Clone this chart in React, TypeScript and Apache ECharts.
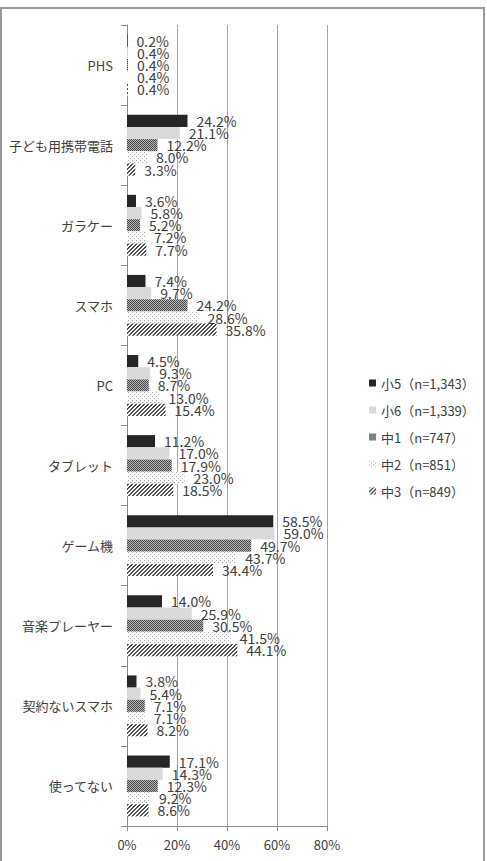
import React, { useEffect, useRef } from "react";
import * as echarts from "echarts";

// Devices used by grade (percent of respondents)
const categories = [
  "PHS",
  "子ども用携帯電話",
  "ガラケー",
  "スマホ",
  "PC",
  "タブレット",
  "ゲーム機",
  "音楽プレーヤー",
  "契約ないスマホ",
  "使ってない",
];

const seriesNames = [
  "小5（n=1,343）",
  "小6（n=1,339）",
  "中1（n=747）",
  "中2（n=851）",
  "中3（n=849）",
];

const grade5 = [0.2, 24.2, 3.6, 7.4, 4.5, 11.2, 58.5, 14.0, 3.8, 17.1];
const grade6 = [0.4, 21.1, 5.8, 9.7, 9.3, 17.0, 59.0, 25.9, 5.4, 14.3];
const jh1 = [0.4, 12.2, 5.2, 24.2, 8.7, 17.9, 49.7, 30.5, 7.1, 12.3];
const jh2 = [0.4, 8.0, 7.2, 28.6, 13.0, 23.0, 43.7, 41.5, 7.1, 9.2];
const jh3 = [0.4, 3.3, 7.7, 35.8, 15.4, 18.5, 34.4, 44.1, 8.2, 8.6];

const xTicks = { min: 0, max: 80, interval: 20 };

type PixelFn = (x: number, y: number) => string;

function makePattern(size: number, pixel: PixelFn) {
  const c = document.createElement("canvas");
  c.width = size;
  c.height = size;
  const ctx = c.getContext("2d")!;
  for (let y = 0; y < size; y++) {
    for (let x = 0; x < size; x++) {
      ctx.fillStyle = pixel(x, y);
      ctx.fillRect(x, y, 1, 1);
    }
  }
  return {
    image: c,
    repeat: "repeat",
    imageWidth: size,
    imageHeight: size,
  } as any;
}

export default function App() {
  const ref = useRef<HTMLDivElement>(null);

  useEffect(() => {
    if (!ref.current) return;
    const chart = echarts.init(ref.current, undefined, { renderer: "svg" });

    const checker = makePattern(2, (x, y) => ((x + y) % 2 === 0 ? "#4a4a4a" : "#b4b4b4"));
    const dots = makePattern(4, (x, y) =>
      (x === 0 && y === 0) || (x === 2 && y === 2) ? "#a8a8a8" : "#ffffff"
    );
    const hatch = makePattern(4, (x, y) => {
      const k = (x + y) % 4;
      return k === 3 || k === 0 ? "#4d4d4d" : "#ffffff";
    });

    const fills: any[] = ["#262626", "#d9d9d9", checker, dots, hatch];
    const values = [grade5, grade6, jh1, jh2, jh3];
    const font = "'Noto Sans CJK JP', 'Noto Sans', sans-serif";

    chart.setOption({
      animation: false,
      backgroundColor: "#ffffff",
      textStyle: { fontFamily: font },
      graphic: [
        {
          type: "rect",
          shape: { x: 1, y: 8, width: 483, height: 880 },
          style: { fill: "none", stroke: "#9a9a9a", lineWidth: 2 },
          silent: true,
        },
      ],
      legend: {
        orient: "vertical",
        left: 364,
        top: 370,
        icon: "rect",
        itemWidth: 7,
        itemHeight: 7,
        itemGap: 11,
        textStyle: { color: "#404040", fontSize: 13, lineHeight: 16, fontFamily: font },
        data: seriesNames,
      },
      grid: { left: 127, top: 25, width: 200, height: 801, containLabel: false },
      xAxis: {
        type: "value",
        min: xTicks.min,
        max: xTicks.max,
        interval: xTicks.interval,
        axisLine: { show: true, lineStyle: { color: "#8c8c8c", width: 1 } },
        axisTick: { show: true, length: 5, lineStyle: { color: "#8c8c8c" } },
        splitLine: { show: true, lineStyle: { color: "#a6a6a6", width: 1 } },
        axisLabel: {
          formatter: "{value}%",
          color: "#404040",
          fontSize: 13,
          margin: 12,
          fontFamily: font,
        },
      },
      yAxis: {
        type: "category",
        inverse: true,
        data: categories,
        axisLine: { show: true, lineStyle: { color: "#8c8c8c", width: 1 } },
        axisTick: { show: true, length: 6, lineStyle: { color: "#8c8c8c" } },
        axisLabel: { color: "#404040", fontSize: 13, margin: 14, fontFamily: font },
        splitLine: { show: false },
      },
      series: seriesNames.map((name, i) => ({
        name,
        type: "bar",
        data: values[i],
        barGap: "0%",
        barCategoryGap: "24%",
        itemStyle: { color: fills[i] },
        label: {
          show: true,
          position: "right",
          distance: 9,
          color: "#404040",
          fontSize: 14,
          fontFamily: font,
          formatter: (p: any) => `${Number(p.value).toFixed(1)}%`,
        },
      })),
    });

    return () => chart.dispose();
  }, []);

  return (
    <div
      ref={ref}
      style={{ position: "absolute", left: 0, top: 0, width: 487, height: 861 }}
    />
  );
}
